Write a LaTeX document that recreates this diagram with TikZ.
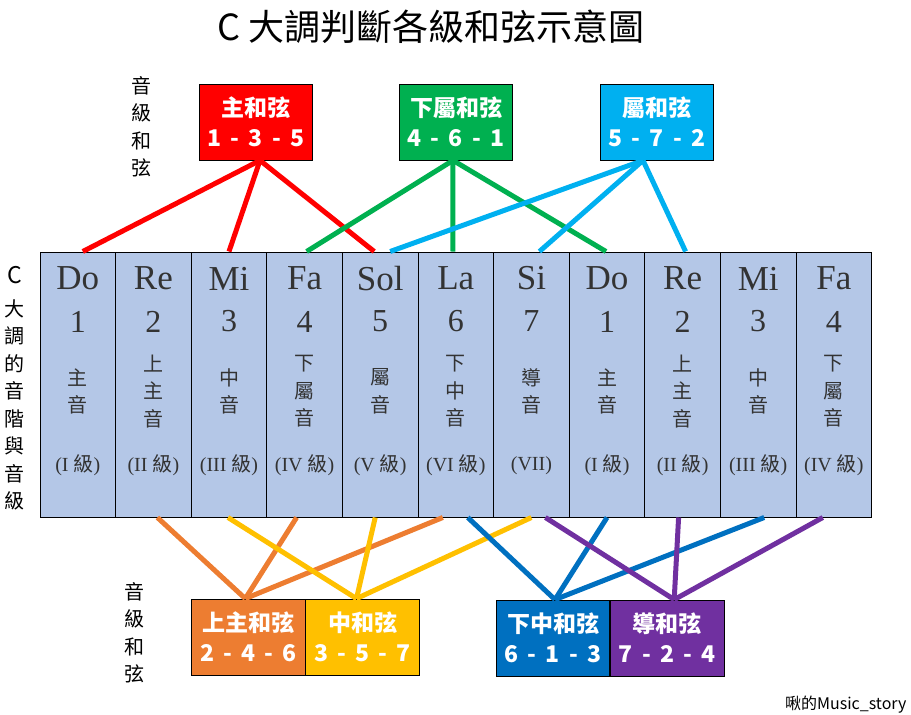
\documentclass[tikz,border=0pt]{standalone}
\usepackage{fontspec}
\setmainfont{Liberation Serif}
\newfontfamily\zh{Noto Sans CJK TC}
\usepackage{tikz}
\usetikzlibrary{positioning}
\definecolor{colfill}{HTML}{B4C7E7}
\definecolor{tonicred}{HTML}{FF0000}
\definecolor{subgreen}{HTML}{00B050}
\definecolor{domblue}{HTML}{00B0F0}
\definecolor{superorange}{HTML}{ED7D31}
\definecolor{medyellow}{HTML}{FFC000}
\definecolor{submedblue}{HTML}{0070C0}
\definecolor{leadpurple}{HTML}{7030A0}
\newcommand{\jilab}{{\zh 級}}
\newcommand{\dsep}{\hspace{0.4em}-\hspace{0.4em}}

\begin{document}
\begin{tikzpicture}[x=1pt,y=-1pt]
\tikzset{
  col/.style={draw=black, fill=colfill, line width=1pt, inner sep=0pt,
    minimum width=75.6pt, minimum height=265pt},
  chord/.style={draw=black, line width=0.8pt, inner sep=0pt, align=center,
    text=white, minimum width=113.4pt, minimum height=76pt,
    font=\zh\bfseries\fontsize{23}{30}\selectfont},
  link/.style={line width=5pt},
  namelab/.style={text=black!80, font=\fontsize{35}{35}\selectfont},
  numlab/.style={text=black!80, font=\fontsize{32}{32}\selectfont},
  rolelab/.style={text=black!80, align=center, inner sep=0pt,
    font=\zh\fontsize{20}{27.5}\selectfont},
  deglab/.style={text=black!80, font=\fontsize{20}{20}\selectfont},
  sidelab/.style={align=center, inner sep=0pt, font=\zh\fontsize{20}{27.5}\selectfont}
}
\useasboundingbox (0,0) rectangle (911,715);

% title
\node[font=\zh\fontsize{36}{36}\selectfont] (title) at (431,27) {C 大調判斷各級和弦示意圖};

% scale columns
\foreach \i in {1,...,11}
  \node[col] (c\i) at ({40+75.6*(\i-0.5)},384.5) {};

\foreach \i/\nm/\num/\role/\deg in {
  1/Do/1/{主\\音}/{I \jilab},
  2/Re/2/{上\\主\\音}/{II \jilab},
  3/Mi/3/{中\\音}/{III \jilab},
  4/Fa/4/{下\\屬\\音}/{IV \jilab},
  5/Sol/5/{屬\\音}/{V \jilab},
  6/La/6/{下\\中\\音}/{VI \jilab},
  7/Si/7/{導\\音}/{VII},
  8/Do/1/{主\\音}/{I \jilab},
  9/Re/2/{上\\主\\音}/{II \jilab},
  10/Mi/3/{中\\音}/{III \jilab},
  11/Fa/4/{下\\屬\\音}/{IV \jilab}}
{
  \node[namelab] (nm\i) at ([yshift=-27pt]c\i.north) {\nm};
  \node[numlab] (num\i) at ([yshift=-70pt]c\i.north) {\num};
  \node[rolelab] (role\i) at ([yshift=-140pt]c\i.north) {\role};
  \node[deglab] (deg\i) at ([yshift=-214pt]c\i.north) {(\deg)};
}

% side labels
\node[font=\zh\fontsize{23}{23}\selectfont] (keyc) at (15,275) {C};
\node[sidelab] (scalelab) at (15,405) {大\\調\\的\\音\\階\\與\\音\\級};
\node[sidelab] (toplab) at (141,127) {音\\級\\和\\弦};
\node[sidelab] (botlab) at (134,633) {音\\級\\和\\弦};

% chord boxes
\node[chord, fill=tonicred] (tonic) at (256,122) {主和弦\\1\dsep3\dsep5};
\node[chord, fill=subgreen] (sub) at (456,122) {下屬和弦\\4\dsep6\dsep1};
\node[chord, fill=domblue] (dom) at (657,122) {屬和弦\\5\dsep7\dsep2};
\node[chord, fill=superorange] (super) at (248.3,637) {上主和弦\\2\dsep4\dsep6};
\node[chord, fill=medyellow, right=0pt of super] (med) {中和弦\\3\dsep5\dsep7};
\node[chord, fill=submedblue] (submed) at (553,638) {下中和弦\\6\dsep1\dsep3};
\node[chord, fill=leadpurple, right=0pt of submed] (lead) {導和弦\\7\dsep2\dsep4};

% upper links
\draw[link, tonicred] ([xshift=4pt]tonic.south) -- ([xshift=5pt]c1.north);
\draw[link, tonicred] ([xshift=4pt]tonic.south) -- (c3.north);
\draw[link, tonicred] ([xshift=4pt]tonic.south) -- ([xshift=-6pt]c5.north);
\draw[link, subgreen] ([xshift=-3pt]sub.south) -- ([xshift=2pt]c4.north);
\draw[link, subgreen] ([xshift=-3pt]sub.south) -- ([xshift=-3pt]c6.north);
\draw[link, subgreen] ([xshift=-3pt]sub.south) -- ([xshift=-1pt]c8.north);
\draw[link, domblue] ([xshift=-14pt]dom.south) -- ([xshift=10pt]c5.north);
\draw[link, domblue] ([xshift=-14pt]dom.south) -- ([xshift=8pt]c7.north);
\draw[link, domblue] ([xshift=-14pt]dom.south) -- ([xshift=3pt]c9.north);

% lower links
\draw[link, superorange] ([xshift=-3pt]super.north) -- ([xshift=4pt]c2.south);
\draw[link, superorange] ([xshift=-3pt]super.north) -- ([xshift=-8pt]c4.south);
\draw[link, superorange] ([xshift=-3pt]super.north) -- ([xshift=-13pt]c6.south);
\draw[link, medyellow] ([xshift=-6pt]med.north) -- ([xshift=-1pt]c3.south);
\draw[link, medyellow] ([xshift=-6pt]med.north) -- ([xshift=-5pt]c5.south);
\draw[link, medyellow] ([xshift=-6pt]med.north) -- (c7.south);
\draw[link, submedblue] ([xshift=2pt]submed.north) -- ([xshift=12pt]c6.south);
\draw[link, submedblue] ([xshift=2pt]submed.north) -- (c8.south);
\draw[link, submedblue] ([xshift=2pt]submed.north) -- ([xshift=6pt]c10.south);
\draw[link, leadpurple] ([xshift=7pt]lead.north) -- ([xshift=14pt]c7.south);
\draw[link, leadpurple] ([xshift=7pt]lead.north) -- ([xshift=-4pt]c9.south);
\draw[link, leadpurple] ([xshift=7pt]lead.north) -- ([xshift=-11pt]c11.south);

% credit
\node[font=\zh\fontsize{16}{16}\selectfont, anchor=east] (credit) at (910,705) {啾的Music\_story};
\end{tikzpicture}
\end{document}
